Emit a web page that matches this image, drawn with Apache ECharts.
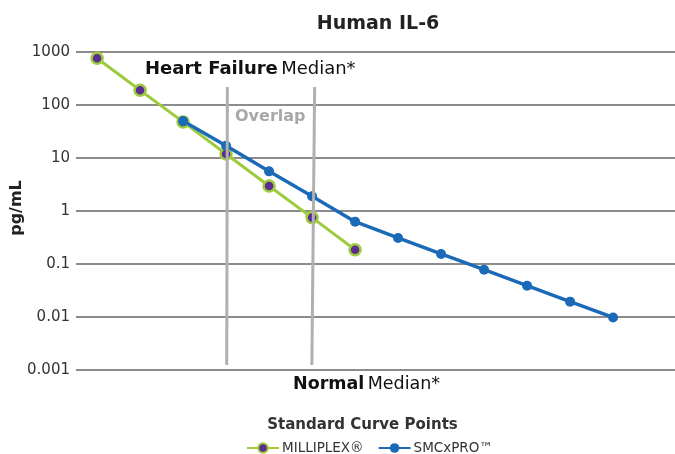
<!DOCTYPE html>
<html>
<head>
<meta charset="utf-8">
<script src="https://cdn.jsdelivr.net/npm/echarts@6/dist/echarts.min.js"></script>
<style>
  html, body { margin: 0; padding: 0; background: #fff; }
  #chart { width: 675px; height: 454px; }
</style>
</head>
<body>
<div id="chart"></div>
<script>
// standard curve point numbers
var points = [1, 2, 3, 4, 5, 6, 7, 8, 9, 10, 11, 12, 13];
// pg/mL
var milliplex = [760, 190, 48, 11.9, 2.97, 0.75, 0.186];
var smcxpro = [null, null, 50, 17, 5.6, 1.9, 0.63, 0.31, 0.155, 0.078, 0.039, 0.0195, 0.0098];
var yTicks = ['0.001', '0.01', '0.1', '1', '10', '100', '1000'];
// the two median lines (x in curve points, top / bottom in pg/mL)
var medianLines = [
  [[4.03, 219], [4.015, 0.00124]],
  [[6.06, 219], [5.995, 0.00124]]
];

var font = '"DejaVu Sans", Verdana, sans-serif';

function pairs(vals) {
  var out = [];
  vals.forEach(function (v, i) {
    if (v != null) out.push([points[i], v]);
  });
  return out;
}

var myChart = echarts.init(document.getElementById('chart'));

myChart.setOption({
  animation: false,
  textStyle: { fontFamily: font },
  title: {
    text: 'Human IL-6',
    left: 373,
    textAlign: 'center',
    top: 10,
    textStyle: { fontFamily: font, fontSize: 19, fontWeight: 'bold', color: '#222' }
  },
  grid: { left: 76, right: 0, top: 52, bottom: 84, outerBoundsMode: 'none', containLabel: false },
  xAxis: {
    type: 'value',
    min: 0.51,
    max: 14.44,
    name: 'Standard Curve Points',
    nameLocation: 'middle',
    nameGap: 48,
    nameTextStyle: { fontFamily: font, fontSize: 15, fontWeight: 'bold', color: '#333', padding: [0, 26, 0, 0] },
    axisLine: { show: false },
    axisTick: { show: false },
    axisLabel: { show: false },
    splitLine: { show: false }
  },
  yAxis: {
    type: 'log',
    logBase: 10,
    min: 0.001,
    max: 1000,
    axisLine: { show: false },
    axisTick: { show: false },
    axisLabel: {
      margin: 6,
      fontSize: 15,
      color: '#333',
      fontFamily: font,
      formatter: function (v) {
        var i = Math.round(Math.log10(v)) + 3;
        return yTicks[i] !== undefined ? yTicks[i] : '';
      }
    },
    splitLine: { lineStyle: { color: '#8c8c8c', width: 2 } }
  },
  legend: {
    top: 436,
    left: 241,
    itemWidth: 32,
    itemHeight: 12,
    itemGap: 14,
    textStyle: { fontFamily: font, fontSize: 13.5, color: '#333', padding: [0, 0, 0, -2] },
    data: ['MILLIPLEX®', 'SMCxPRO™']
  },
  series: [
    {
      name: 'MILLIPLEX®',
      type: 'line',
      data: pairs(milliplex),
      symbol: 'circle',
      symbolSize: 11,
      lineStyle: { color: '#9dcb3c', width: 3 },
      itemStyle: { color: '#5a2d91', borderColor: '#9dcb3c', borderWidth: 2.5 },
      z: 3
    },
    {
      name: 'SMCxPRO™',
      type: 'line',
      data: pairs(smcxpro),
      symbol: 'circle',
      symbolSize: 10,
      lineStyle: { color: '#1b6ab8', width: 3.5 },
      itemStyle: { color: '#1b6ab8' },
      z: 4,
      markLine: {
        silent: true,
        symbol: 'none',
        label: { show: false },
        lineStyle: { color: '#b0b0b0', width: 3, type: 'solid' },
        data: medianLines.map(function (l) {
          return [{ coord: l[0] }, { coord: l[1] }];
        })
      }
    }
  ],
  graphic: [
    {
      type: 'text',
      x: 17,
      y: 208,
      rotation: Math.PI / 2,
      style: {
        text: 'pg/mL',
        fontFamily: font, fontSize: 16, fontWeight: 'bold', fill: '#222',
        align: 'center', verticalAlign: 'middle'
      }
    },
    {
      type: 'text',
      left: 145,
      top: 60,
      style: {
        text: '{b|Heart Failure} {n|Median*}',
        rich: {
          b: { fontFamily: font, fontSize: 18, fontWeight: 'bold', fill: '#111' },
          n: { fontFamily: font, fontSize: 18, fill: '#111' }
        }
      }
    },
    {
      type: 'text',
      left: 235,
      top: 109,
      style: { text: 'Overlap', fontFamily: font, fontSize: 16, fontWeight: 'bold', fill: '#a8a8a8' }
    },
    {
      type: 'text',
      left: 293,
      top: 375,
      style: {
        text: '{b|Normal} {n|Median*}',
        rich: {
          b: { fontFamily: font, fontSize: 17.5, fontWeight: 'bold', fill: '#111' },
          n: { fontFamily: font, fontSize: 17.5, fill: '#111' }
        }
      }
    }
  ]
});
</script>
</body>
</html>
